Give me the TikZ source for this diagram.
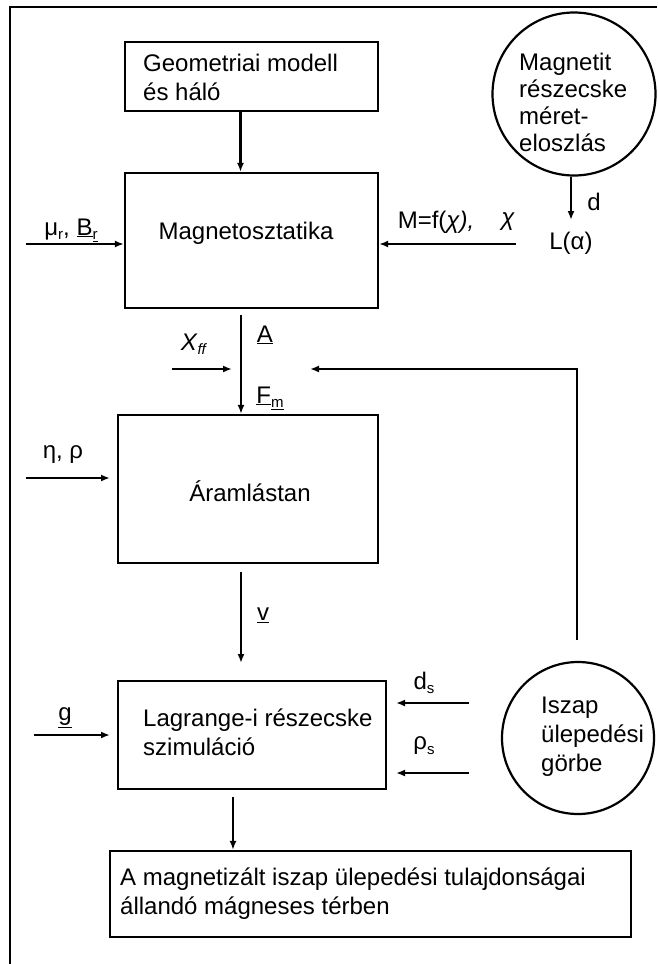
\documentclass[tikz,border=0pt]{standalone}
\usepackage{fontspec}
\setmainfont{Liberation Sans}
\usetikzlibrary{arrows.meta,calc}
\newcommand\mysub[1]{\raisebox{-0.35ex}{\fontsize{15}{15}\selectfont #1}}
\begin{document}
\begin{tikzpicture}[x=1pt,y=-1pt,
  box/.style={draw, line width=2.2pt, inner sep=0pt},
  txt/.style={font=\fontsize{24}{29}\selectfont, inner sep=0pt, align=left},
  arr/.style={line width=2.4pt, -{Latex[length=9pt,width=7pt]}},
  ln/.style={line width=2.2pt}]
\useasboundingbox (0,0) rectangle (657,964);
\draw[ln] (10,964) -- (10,7) -- (657,7);
% boxes
\node[box, minimum width=253pt, minimum height=69pt] (b1) at (251.5,76.5) {};
\node[txt, anchor=west] (t1) at (143,77) {Geometriai modell\\és háló};
\node[box, minimum width=253pt, minimum height=135pt] (b2) at (251.5,240.5) {};
\node[txt] (t2) at (246,233) {Magnetosztatika};
\node[box, minimum width=260pt, minimum height=148pt] (b3) at (248,489) {};
\node[txt] (t3) at (250,491) {Áramlástan};
\node[box, minimum width=268pt, minimum height=108pt] (b4) at (252,735) {};
\node[txt, anchor=west] (t4) at (143,732) {Lagrange-i részecske\\szimuláció};
\node[box, minimum width=521pt, minimum height=86pt] (b5) at (370.5,894) {};
\node[txt, anchor=west] (t5) at (120,894) {A magnetizált iszap ülepedési tulajdonságai\\állandó mágneses térben};
% circles
\node[box, circle, minimum size=163pt] (c1) at (574,94) {};
\node[txt, anchor=west, font=\fontsize{24}{27}\selectfont] (tc1) at (519,102) {Magnetit\\részecske\\méret-\\eloszlás};
\node[box, circle, minimum size=152pt] (c2) at (578,738) {};
\node[txt, anchor=west] (tc2) at (541,737) {Iszap\\ülepedési\\görbe};
% connectors
\coordinate (xa) at (240.5,0);
\draw[arr] (b1.south -| xa) -- (b2.north -| xa);
\coordinate (mu0) at (26,244);
\draw[arr] (mu0) -- (mu0 -| b2.west);
\node[txt] (lmu) at (71,230) {μ\mysub{r}, \underline{B}\underline{\mysub{r}}};
\coordinate (m0) at (516,244);
\draw[arr] (m0) -- (m0 -| b2.east);
\node[txt] (lM) at (436,222) {M=f(\textit{χ),}};
\node[txt] (lchi) at (508,222) {\textit{χ}};
\coordinate (ca) at (571,220);
\draw[arr] (ca |- c1.south) -- (ca);
\node[txt] (ld) at (594,202) {d};
\node[txt] (lL) at (571,243) {L(α)};
\coordinate (xb) at (241,315);
\draw[arr] (xb) -- (xb |- b3.north);
\node[txt] (lA) at (265,335) {\underline{A}};
\node[txt] (lF) at (270,398) {\underline{F}\underline{\mysub{m}}};
\node[txt] (lX) at (194,344) {\textit{X}\mysub{\textit{ff}}};
\coordinate (x0) at (172,369);
\coordinate (x1) at (232,369);
\draw[arr] (x0) -- (x1);
\coordinate (fb0) at (577,640);
\coordinate (fb1) at (310,369);
\draw[arr] (fb0) -- (fb0 |- fb1) -- (fb1);
\coordinate (e0) at (26,478);
\coordinate (e1) at (110,478);
\draw[arr] (e0) -- (e1);
\node[txt] (leta) at (63,455) {η, ρ};
\coordinate (v0) at (241,572);
\coordinate (v1) at (241,663);
\draw[arr] (v0) -- (v1);
\node[txt] (lv) at (263,615) {\underline{v}};
\coordinate (g0) at (34,735);
\coordinate (g1) at (110,735);
\draw[arr] (g0) -- (g1);
\node[txt] (lg) at (65,718) {\underline{g}};
\coordinate (ds0) at (469,703);
\coordinate (ds1) at (396,703);
\draw[arr] (ds0) -- (ds1);
\node[txt] (lds) at (424,683) {d\mysub{s}};
\coordinate (rs0) at (469,773);
\coordinate (rs1) at (396,773);
\draw[arr] (rs0) -- (rs1);
\node[txt] (lrs) at (424,746) {ρ\mysub{s}};
\coordinate (o0) at (233,797);
\draw[arr] (o0) -- (o0 |- b5.north);
\end{tikzpicture}
\end{document}
